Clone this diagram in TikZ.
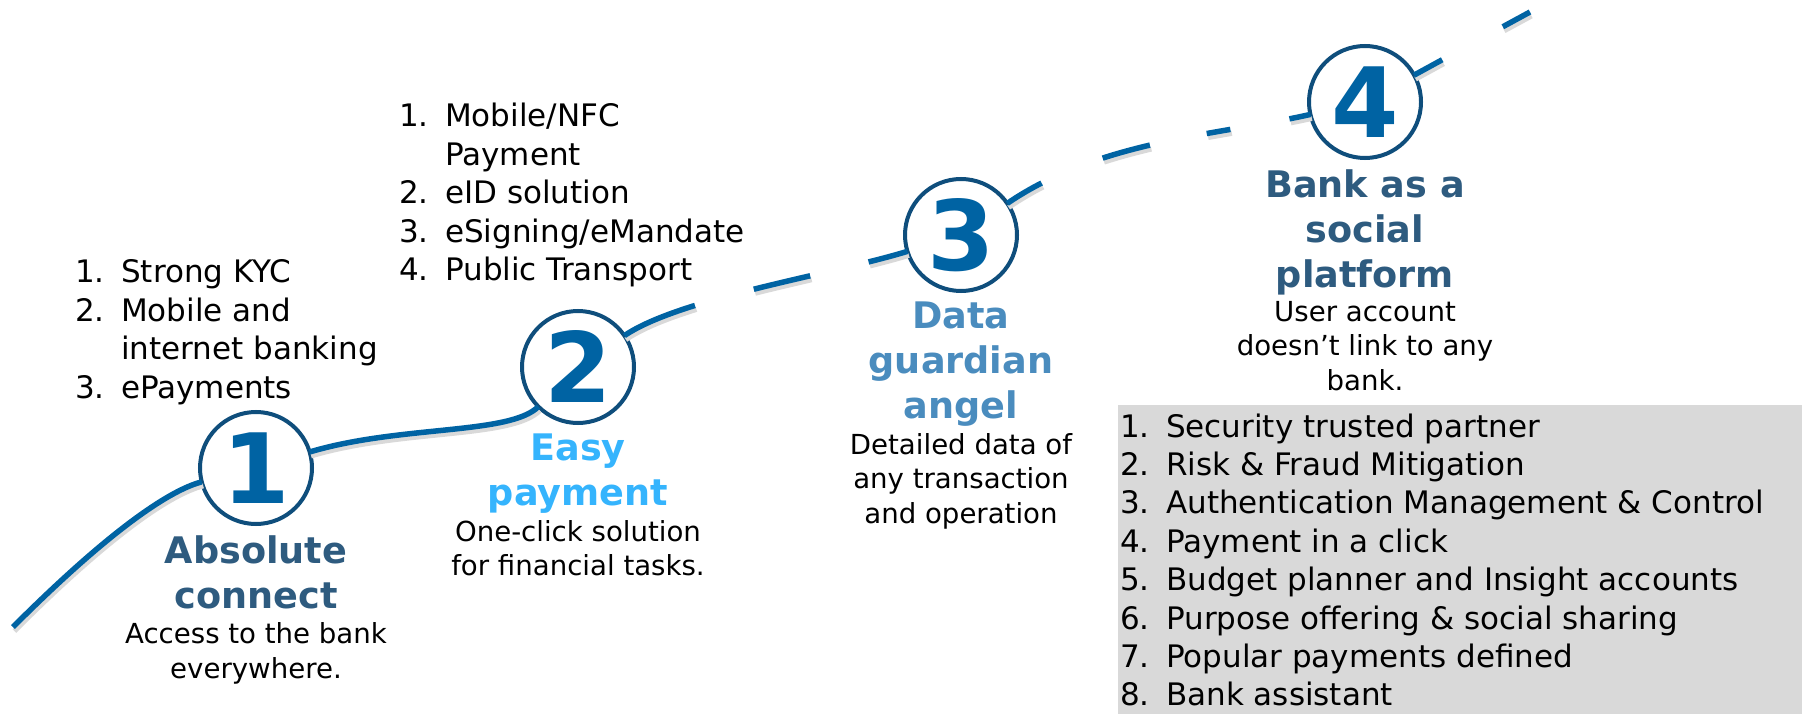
\documentclass[tikz,border=0pt]{standalone}
\usepackage{fontspec}
\setmainfont{DejaVu Sans}
\usetikzlibrary{positioning}
\definecolor{trendblue}{HTML}{0063A3}
\definecolor{ringblue}{HTML}{0F4E7C}
\definecolor{stepdark}{HTML}{2E5B7F}
\definecolor{steplight}{HTML}{35B4FD}
\definecolor{stepmid}{HTML}{4A8CBE}
\definecolor{boxgray}{HTML}{D9D9D9}
\begin{document}
\begin{tikzpicture}[x=1pt, y=-1pt,
  milestone/.style={circle, draw=ringblue, line width=4pt, fill=white, minimum size=112pt, inner sep=0pt, outer sep=0pt, text=trendblue, font=\fontsize{97}{97}\selectfont\bfseries},
  phase/.style={align=center, inner sep=0pt, font=\fontsize{36.6}{45}\selectfont\bfseries},
  note/.style={align=center, inner sep=0pt, font=\fontsize{27.6}{34.5}\selectfont},
  itemlist/.style={anchor=base west, inner sep=0pt, font=\fontsize{31}{38.4}\selectfont},
  trend/.style={draw=trendblue, line width=5.5pt, #1, preaction={draw=black!15, line width=5pt, #1, transform canvas={shift={(1.5pt,-4pt)}}}},
  trend/.default={solid}]
\useasboundingbox (0,0) rectangle (1802,714);

\node (box) [fill=boxgray, anchor=north west, minimum width=684pt, minimum height=309pt, inner sep=0pt] at (1118,405) {};

\coordinate (start) at (13,627);
\coordinate (tip) at (1530,12);
\node (c1) [milestone] at (256,468) {1};
\node (c2) [milestone] at (578,367) {2};
\node (c3) [milestone] at (961,235) {3};
\node (c4) [milestone] at (1365,102) {4};

\draw[trend] (start) .. controls (110,530) and (170,490) .. (c1);
\draw[trend] (c1) .. controls (400,425) and (510,435) .. (c2);
\draw[trend={dash pattern=on 77pt off 61pt on 58pt off 60pt on 200pt}] (c2) .. controls (680,298) and (830,275) .. (c3);
\draw[trend={dash pattern=on 40pt off 66pt on 49pt off 58pt on 24pt off 60pt on 200pt}] (c3) .. controls (1100,140) and (1220,135) .. (c4);
\draw[trend={dash pattern=on 32pt off 69pt on 200pt}] (c4) .. controls (1460,50) .. (tip);

\node (t1) [phase, text=stepdark, below=11pt of c1] {Absolute\\connect};
\node (d1) [note, below=14pt of t1] {Access to the bank\\everywhere.};
\node (t2) [phase, text=steplight, below=11pt of c2] {Easy\\payment};
\node (d2) [note, below=6pt of t2] {One-click solution\\for financial tasks.};
\node (t3) [phase, text=stepmid, below=11pt of c3] {Data\\guardian\\angel};
\node (d3) [note, below=6pt of t3] {Detailed data of\\any transaction\\and operation};
\node (t4) [phase, text=stepdark, below=11pt of c4] {Bank as a\\social\\platform};
\node (d4) [note, below=6pt of t4] {User account\\doesn’t link to any\\bank.};

\node (kyc) [itemlist] at (75,283) {\begin{tabular}[t]{@{}p{46pt}@{}l@{}}1. & Strong KYC\\2. & Mobile and\\ & internet banking\\3. & ePayments\end{tabular}};
\node (pay) [itemlist] at (399,127) {\begin{tabular}[t]{@{}p{46pt}@{}l@{}}1. & Mobile/NFC\\ & Payment\\2. & eID solution\\3. & eSigning/eMandate\\4. & Public Transport\end{tabular}};
\node (social) [itemlist] at (1120,437) {\begin{tabular}[t]{@{}p{46pt}@{}l@{}}1. & Security trusted partner\\2. & Risk \& Fraud Mitigation\\3. & Authentication Management \& Control\\4. & Payment in a click\\5. & Budget planner and Insight accounts\\6. & Purpose offering \& social sharing\\7. & Popular payments defined\\8. & Bank assistant\end{tabular}};
\end{tikzpicture}
\end{document}
